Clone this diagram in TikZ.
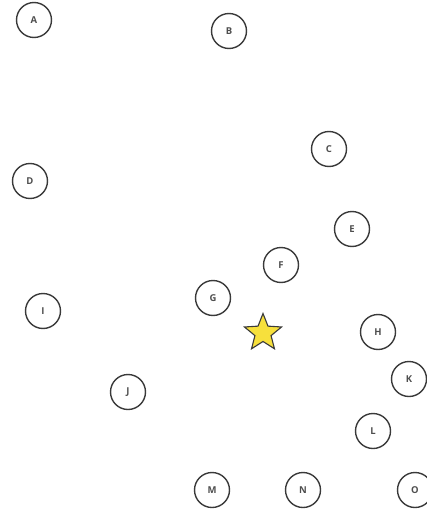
\documentclass[tikz,border=0pt]{standalone}
\usepackage{fontspec}
\setmainfont{Open Sans}
\usetikzlibrary{shapes.geometric}
\definecolor{ringgray}{HTML}{3A3A3A}
\definecolor{staryellow}{HTML}{F7E03C}

\begin{document}
\begin{tikzpicture}[
  x=1pt,y=-1pt,
  font=\fontsize{9.5}{10}\selectfont\bfseries,
  spot/.style={draw=ringgray,circle,line width=1.4pt,minimum size=35pt,inner sep=0pt,text=ringgray!90},
  mark star/.style={star,star points=5,star point ratio=2.3,minimum size=39pt,inner sep=0pt,
    draw=ringgray,line width=1.1pt,fill=staryellow}]
\path[use as bounding box] (0,0) rectangle (427,511);
\node[spot] (a) at (34,20) {A};
\node[spot] (b) at (229,31) {B};
\node[spot] (c) at (329,149) {C};
\node[spot] (d) at (30,181) {D};
\node[spot] (e) at (352,229) {E};
\node[spot] (f) at (281,265) {F};
\node[spot] (g) at (213,298) {G};
\node[spot] (h) at (378,332) {H};
\node[spot] (i) at (43,311) {I};
\node[spot] (j) at (128,392) {J};
\node[spot] (k) at (409,379) {K};
\node[spot] (l) at (373,431) {L};
\node[spot] (m) at (212,490) {M};
\node[spot] (n) at (303,490) {N};
\node[spot] (o) at (415,490) {O};
\node[mark star] (target) at (263,333) {};
\end{tikzpicture}
\end{document}
